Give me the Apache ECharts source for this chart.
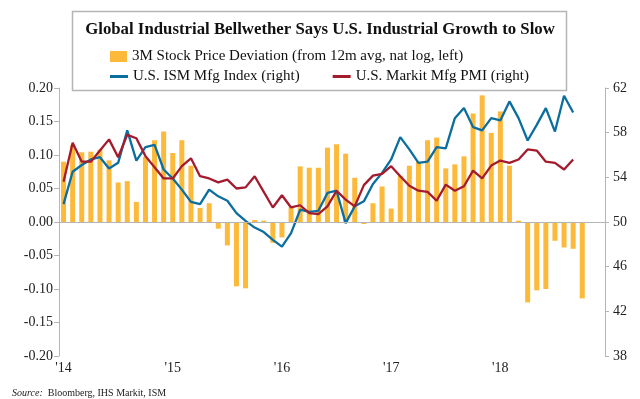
<!DOCTYPE html>
<html>
<head>
<meta charset="utf-8">
<script src="https://cdn.jsdelivr.net/npm/echarts@6/dist/echarts.min.js"></script>
<style>
  html, body { margin: 0; padding: 0; background: #fff; }
  #main { width: 640px; height: 399px; }
</style>
</head>
<body>
<div id="main"></div>
<script>
// monthly, Jan 2014 .. Dec 2018
var years = ['14', '15', '16', '17', '18'];
var months = [];
years.forEach(function (y) {
    for (var m = 1; m <= 12; m++) months.push(y + '-' + m);
});

// 3M stock price deviation from 12m avg (nat log), left axis
var stockDev = [
    0.090, 0.115, 0.104, 0.105, 0.108, 0.092, 0.059, 0.061, 0.030, 0.097, 0.122, 0.135,
    0.103, 0.122, 0.084, 0.021, 0.028, -0.010, -0.035, -0.096, -0.099, 0.003, 0.002, -0.031,
    -0.023, 0.022, 0.083, 0.081, 0.081, 0.111, 0.116, 0.102, 0.066, -0.003, 0.028, 0.053,
    0.020, 0.069, 0.084, 0.090, 0.122, 0.126, 0.080, 0.086, 0.098, 0.162, 0.189, 0.133,
    0.165, 0.084, 0.002, -0.120, -0.102, -0.100, -0.028, -0.038, -0.040, -0.114
];

// U.S. ISM manufacturing index, right axis
var ismMfg = [
    51.6, 54.5, 55.1, 55.6, 55.8, 54.8, 55.3, 58.2, 55.5, 56.7, 56.9, 54.7,
    53.9, 52.9, 51.8, 51.6, 52.9, 52.3, 51.9, 50.8, 50.1, 49.5, 49.1, 48.4,
    47.8, 49.0, 51.1, 50.9, 51.0, 52.6, 52.8, 49.9, 51.4, 51.85, 53.4, 54.4,
    55.6, 57.6, 56.5, 55.3, 55.4, 56.7, 56.6, 59.3, 60.2, 58.5, 58.2, 59.3,
    59.1, 60.8, 59.3, 57.3, 58.7, 60.2, 58.1, 61.3, 59.8
];

// U.S. Markit manufacturing PMI, right axis
var markitPmi = [
    53.6, 57.1, 55.4, 55.4, 56.4, 57.4, 55.8, 57.8, 57.5, 55.9, 54.9, 53.9,
    53.9, 55.0, 55.7, 54.1, 53.9, 53.55, 53.8, 53.0, 53.1, 54.1, 52.7, 51.3,
    52.4, 51.3, 51.5, 50.8, 50.7, 51.4, 52.8, 52.0, 51.4, 53.3, 54.15, 54.3,
    55.0, 54.1, 53.25, 52.8, 52.7, 51.9, 53.35, 52.8, 53.2, 54.6, 53.9, 55.05,
    55.5, 55.3, 55.6, 56.5, 56.4, 55.4, 55.3, 54.7, 55.6
];

var serif = '"Liberation Serif", "DejaVu Serif", serif';
var barColor = '#FDB93A', blue = '#0B6E9F', red = '#A51B2E';

var myChart = echarts.init(document.getElementById('main'));
var option = {
    animation: false,
    backgroundColor: '#fff',
    textStyle: { fontFamily: serif },
    graphic: [
        {
            type: 'rect', z: 0,
            shape: { x: 72.5, y: 11.5, width: 494, height: 79 },
            style: { fill: '#fff', stroke: '#b5b5b5', lineWidth: 1.5 }
        }
    ],
    title: [
        {
            text: 'Global Industrial Bellwether Says U.S. Industrial Growth to Slow',
            left: 'center', top: 16, z: 10,
            textStyle: { fontFamily: serif, fontSize: 16.8, fontWeight: 'bold', color: '#111' }
        },
        {
            text: '{i|Source:}  Bloomberg, IHS Markit, ISM',
            left: 7, top: 383,
            textStyle: {
                fontFamily: serif, fontSize: 10, fontWeight: 'normal', color: '#222',
                rich: { i: { fontFamily: serif, fontSize: 10, fontStyle: 'italic', color: '#222' } }
            }
        }
    ],
    legend: [
        {
            data: ['3M Stock Price Deviation (from 12m avg, nat log, left)'],
            left: 105, top: 44, z: 10,
            itemWidth: 17, itemHeight: 11, icon: 'rect',
            textStyle: { fontFamily: serif, fontSize: 15, color: '#111' }
        },
        {
            data: ['U.S. ISM Mfg Index (right)', 'U.S. Markit Mfg PMI (right)'],
            left: 105, top: 64, z: 10, itemGap: 33,
            itemWidth: 18, itemHeight: 3, icon: 'rect',
            textStyle: { fontFamily: serif, fontSize: 15, color: '#111' }
        }
    ],
    grid: { left: 59, right: 35, top: 88, bottom: 43 },
    xAxis: {
        type: 'category',
        data: months,
        boundaryGap: true,
        axisLine: { show: false },
        axisTick: { show: false },
        axisLabel: {
            interval: function (i) { return i % 12 === 0; },
            formatter: function (v) { return "'" + v.split('-')[0]; },
            fontFamily: serif, fontSize: 14, color: '#222', margin: 5
        },
        splitLine: { show: false }
    },
    yAxis: [
        {
            type: 'value', min: -0.2, max: 0.2, interval: 0.05,
            axisLine: { show: true, lineStyle: { color: '#b5b5b5', width: 1 } },
            axisTick: { show: true, length: 5, lineStyle: { color: '#b5b5b5' } },
            axisLabel: {
                formatter: function (v) { return v.toFixed(2); },
                fontFamily: serif, fontSize: 14, color: '#222', margin: 6
            },
            splitLine: { show: false }
        },
        {
            type: 'value', min: 38, max: 62, interval: 4, position: 'right',
            axisLine: { show: true, lineStyle: { color: '#b5b5b5', width: 1 } },
            axisTick: { show: true, length: 4, lineStyle: { color: '#b5b5b5' } },
            axisLabel: { fontFamily: serif, fontSize: 14, color: '#222', margin: 8 },
            splitLine: { show: false }
        }
    ],
    series: [
        {
            name: '3M Stock Price Deviation (from 12m avg, nat log, left)',
            type: 'bar',
            yAxisIndex: 0,
            barWidth: 5,
            itemStyle: { color: barColor },
            data: stockDev,
            markLine: {
                silent: true, symbol: 'none',
                label: { show: false },
                lineStyle: { color: '#b5b5b5', type: 'solid', width: 1.2 },
                data: [{ yAxis: 0 }]
            }
        },
        {
            name: 'U.S. ISM Mfg Index (right)',
            type: 'line',
            yAxisIndex: 1,
            symbol: 'none',
            lineStyle: { color: blue, width: 2.3 },
            itemStyle: { color: blue },
            data: ismMfg,
            z: 4
        },
        {
            name: 'U.S. Markit Mfg PMI (right)',
            type: 'line',
            yAxisIndex: 1,
            symbol: 'none',
            lineStyle: { color: red, width: 2.3 },
            itemStyle: { color: red },
            data: markitPmi,
            z: 5
        }
    ]
};
myChart.setOption(option);
</script>
</body>
</html>
